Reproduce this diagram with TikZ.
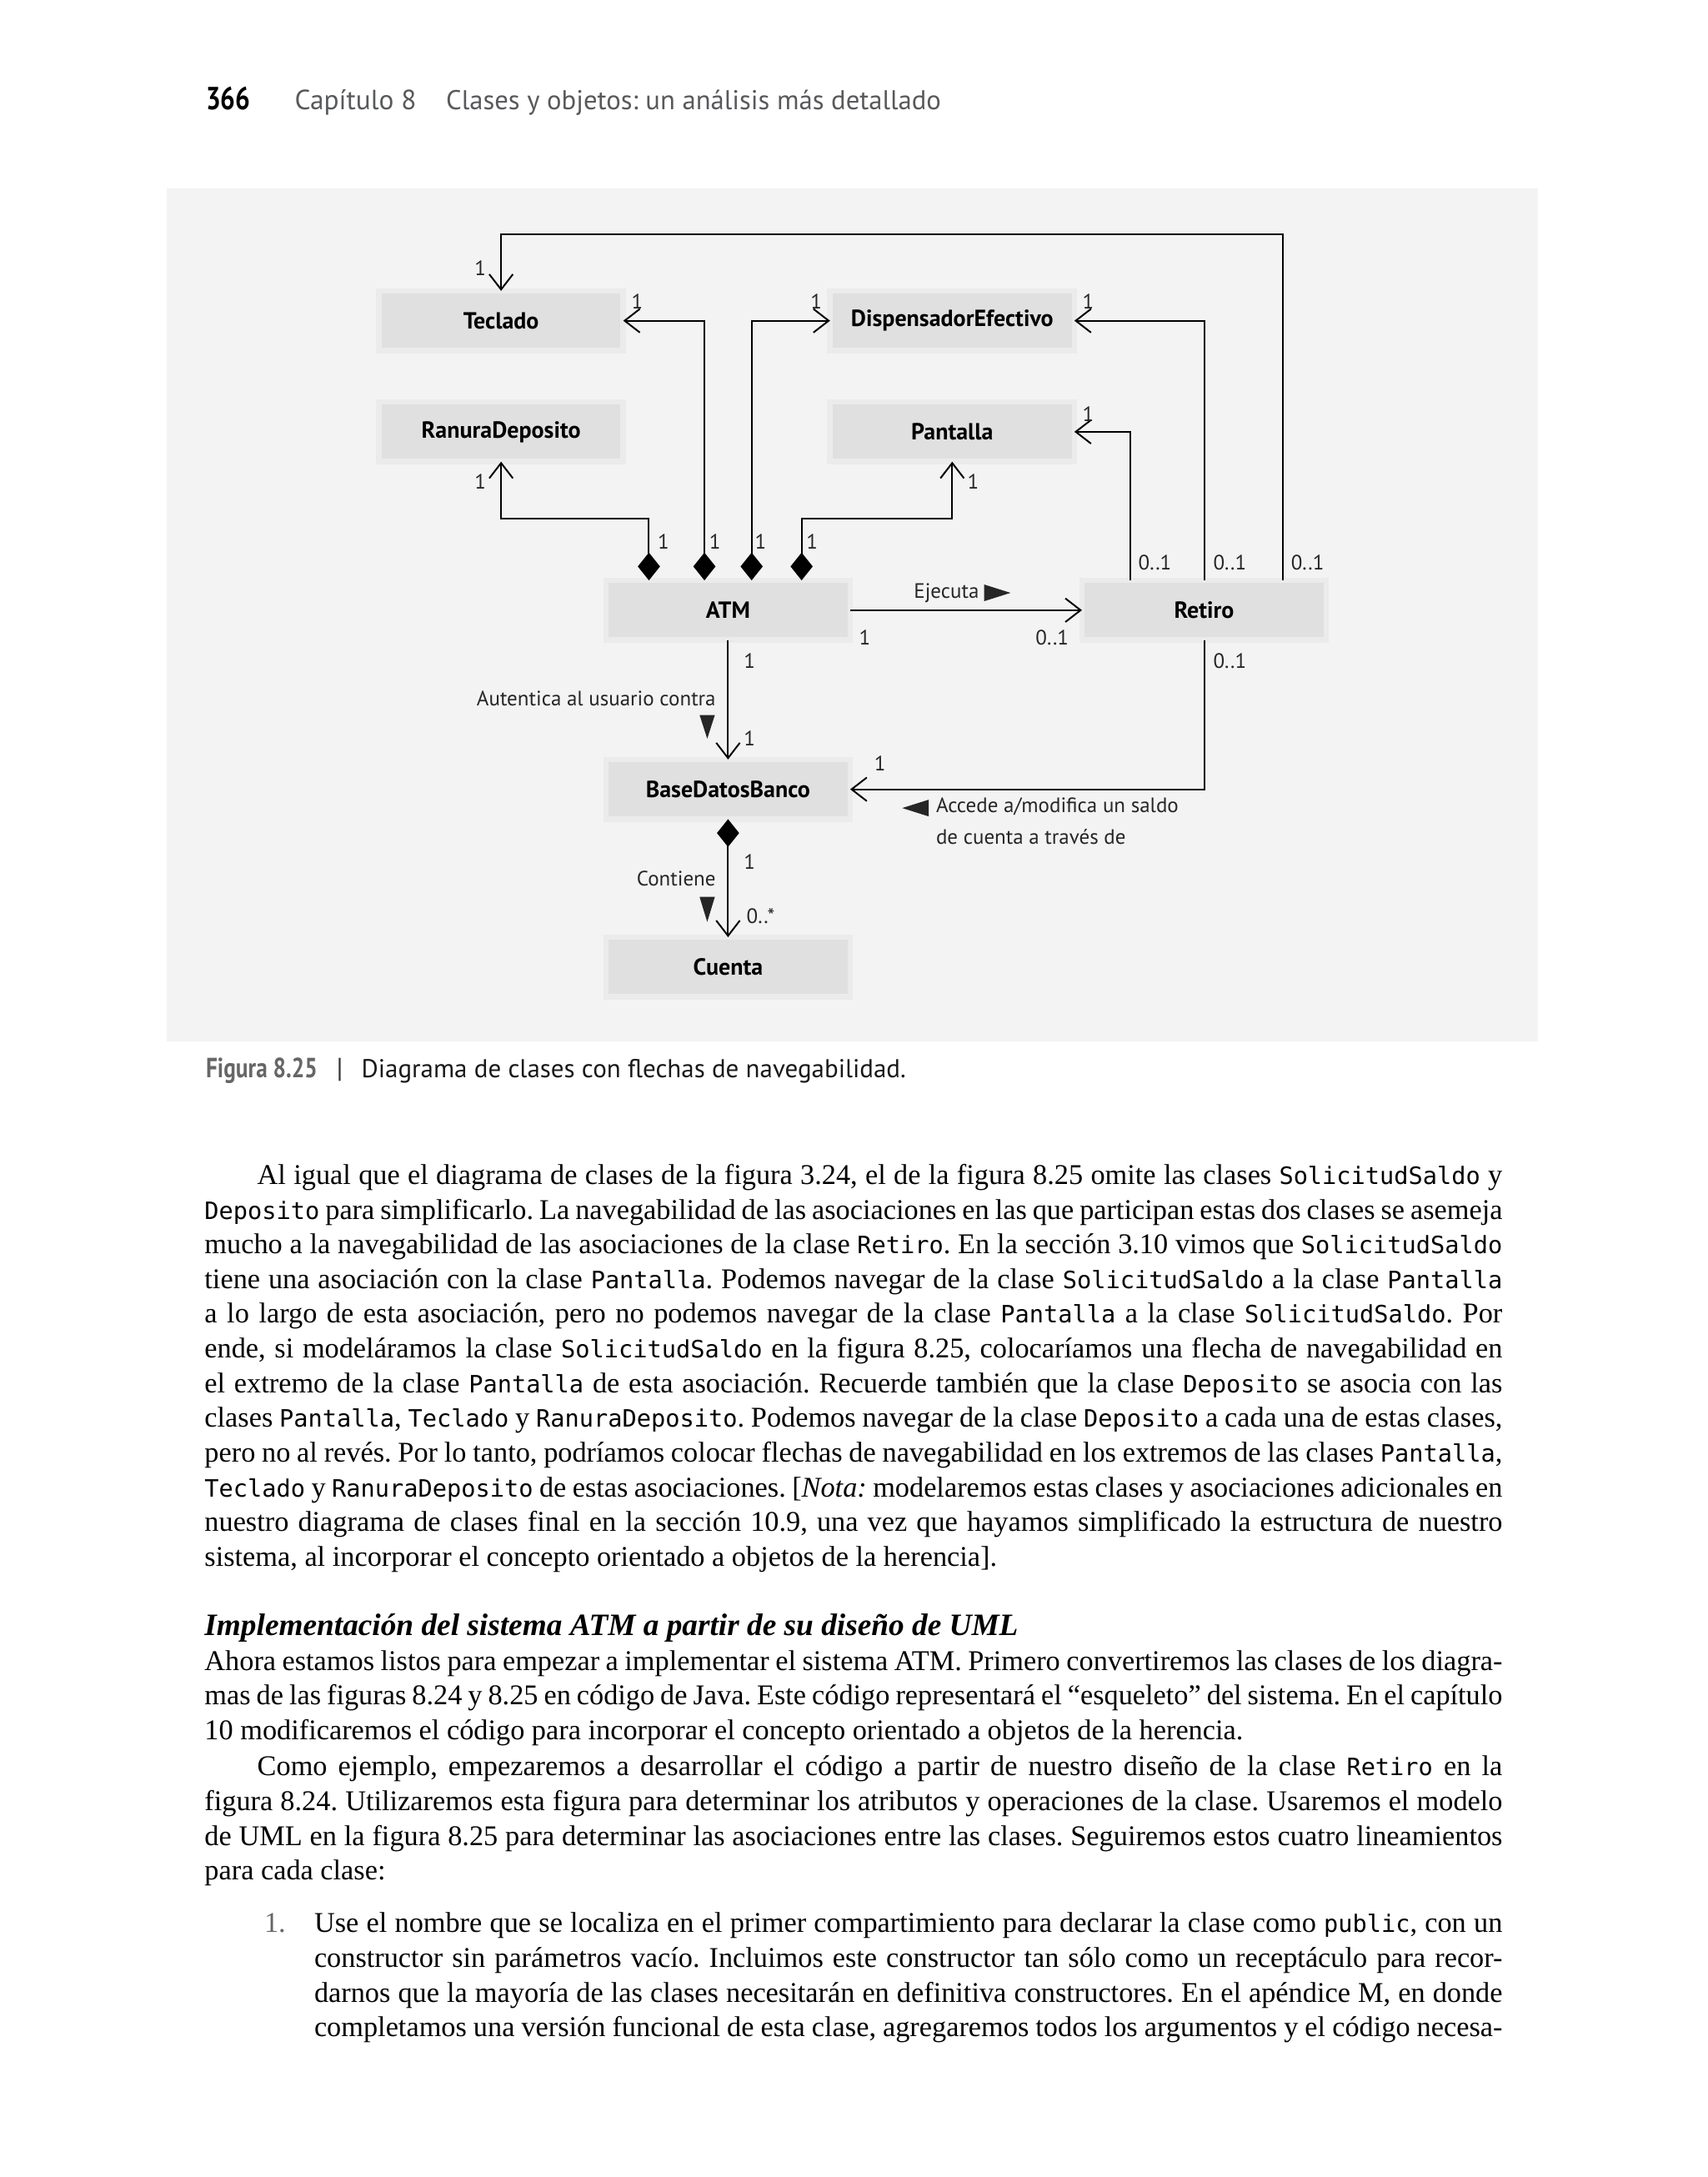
\documentclass[tikz,border=0pt]{standalone}
\usepackage{fontspec}
\setmainfont{Liberation Serif}
\setmonofont{DejaVu Sans Mono}
\newfontfamily\uifont{PT Sans}
\newfontfamily\uicond[FakeStretch=0.82]{PT Sans}
\usetikzlibrary{arrows.meta}
\usetikzlibrary{calc}
\usetikzlibrary{positioning}
\definecolor{panelgray}{HTML}{F3F3F3}
\definecolor{classface}{HTML}{E0E0E0}
\definecolor{classedge}{HTML}{EBEBEB}
\definecolor{headgray}{HTML}{58595B}
\frenchspacing

\newcommand{\code}[1]{{\ttfamily\fontsize{8.6}{10}\selectfont #1}}

\tikzset{
  classbox/.style={fill=classface, draw=classedge, line width=2pt,
    minimum width=88pt, minimum height=21.5pt, inner sep=0pt, outer sep=0pt,
    font=\uifont\bfseries\fontsize{8.4}{9}\selectfont},
  mult/.style={inner sep=0pt, font=\uifont\fontsize{7.5}{9}\selectfont, text=black!85},
  nav/.style={line width=0.6pt, -{Straight Barb[length=5.5pt,width=8.5pt]}},
  comp/.style={line width=0.6pt, {Diamond[length=10pt,width=8pt]}-{Straight Barb[length=5.5pt,width=8.5pt]}},
  dirmark/.style={fill=black!85},
  bodyline/.style={inner sep=0pt, font=\fontsize{10.3}{12.5}\selectfont},
  headtext/.style={inner sep=0pt, anchor=base west, font=\uifont\fontsize{10}{12}\selectfont}
}

% one justified line of running text: name, baseline, text
\newcommand{\fullline}[3]{\node[bodyline, anchor=base west] (#1) at (147,#2) {\hbox to 467.5pt{#3}};}
\newcommand{\indentline}[3]{\node[bodyline, anchor=base west] (#1) at (185,#2) {\hbox to 448.5pt{#3}};}
\newcommand{\itemline}[3]{\node[bodyline, anchor=base west] (#1) at (226,#2) {\hbox to 428pt{#3}};}
\newcommand{\lastline}[3]{\node[bodyline, anchor=base west] (#1) at (147,#2) {#3};}

\begin{document}
\begin{tikzpicture}[x=0.5pt, y=-0.5pt]
\useasboundingbox (0,0) rectangle (1230,1568);

%---------------------------------------
% Running head
%---------------------------------------
\node[headtext, font=\uicond\bfseries\fontsize{11.5}{12}\selectfont] (pagenum) at (148,79) {366};
\node[headtext, text=headgray] (chapter) at (212,79) {Capítulo 8};
\node[headtext, text=headgray, font=\uifont\fontsize{9.8}{12}\selectfont] (chaptitle) at (321,79) {Clases y objetos: un análisis más detallado};

%---------------------------------------
% Figure panel
%---------------------------------------
\fill[panelgray] (120,136) rectangle (1108,750);

% classes
\node[classbox] (teclado) at (361,231) {Teclado};
\node[classbox] (dispensador) at (686,231) {DispensadorEfectivo};
\node[classbox] (ranura) at (361,311) {RanuraDeposito};
\node[classbox] (pantalla) at (686,311) {Pantalla};
\node[classbox] (atm) at (524.5,439.5) {ATM};
\node[classbox] (retiro) at (867.5,439.5) {Retiro};
\node[classbox] (basedatos) at (524.5,568.5) {BaseDatosBanco};
\node[classbox] (cuenta) at (524.5,696.5) {Cuenta};

% ATM compositions
\draw[comp] ($(atm.north west)+(31,0)$) |- ($(ranura.south)+(0,41)$) -- (ranura.south);
\draw[comp] ($(atm.north west)+(71,0)$) |- (teclado.east);
\draw[comp] ($(atm.north west)+(105,0)$) |- (dispensador.west);
\draw[comp] ($(atm.north west)+(141,0)$) |- ($(pantalla.south)+(0,41)$) -- (pantalla.south);

% Retiro associations
\draw[nav] ($(retiro.north)+(-53,0)$) |- (pantalla.east);
\draw[nav] (retiro.north) |- (dispensador.east);
\draw[nav] ($(retiro.north)+(57,0)$) |- ($(teclado.north)+(0,-41)$) -- (teclado.north);
\draw[nav] (atm) -- (retiro);
\draw[nav] (retiro.south) |- (basedatos.east);
\draw[nav] (atm) -- (basedatos);
\draw[comp] (basedatos) -- (cuenta);

% multiplicities
\node[mult] (m1) at (346,193) {1};
\node[mult] (m2) at (459,217) {1};
\node[mult] (m3) at (588,217) {1};
\node[mult] (m4) at (784,217) {1};
\node[mult] (m5) at (784,298) {1};
\node[mult] (m6) at (346,347) {1};
\node[mult] (m7) at (701,347) {1};
\node[mult] (m8) at (478,390) {1};
\node[mult] (m9) at (515,390) {1};
\node[mult] (m10) at (548,390) {1};
\node[mult] (m11) at (585,390) {1};
\node[mult] (m12) at (832,405) {0..1};
\node[mult] (m13) at (886,405) {0..1};
\node[mult] (m14) at (942,405) {0..1};
\node[mult] (m15) at (623,459) {1};
\node[mult] (m16) at (758,459) {0..1};
\node[mult] (m17) at (540,476) {1};
\node[mult] (m18) at (886,476) {0..1};
\node[mult] (m19) at (540,532) {1};
\node[mult] (m20) at (634,550) {1};
\node[mult] (m21) at (540,621) {1};
\node[mult] (m22) at (548,660) {0..*};

% association names
\node[mult, anchor=west] (ejecuta) at (658,427) {Ejecuta};
\fill[dirmark] (709,421) -- (728,427) -- (709,433) -- cycle;
\node[mult, anchor=east] (autentica) at (516,503) {Autentica al usuario contra};
\fill[dirmark] (504,515) -- (515,515) -- (509.5,532) -- cycle;
\node[mult, anchor=west] (accede) at (674,581) {Accede a/modifica un saldo};
\node[mult, anchor=west] (accede2) at (674,603) {de cuenta a través de};
\fill[dirmark] (669,576) -- (669,588) -- (650,582) -- cycle;
\node[mult, anchor=east] (contiene) at (516,633) {Contiene};
\fill[dirmark] (504,646) -- (515,646) -- (509.5,664) -- cycle;

%---------------------------------------
% Caption
%---------------------------------------
\node[headtext, font=\uicond\bfseries\fontsize{10}{12}\selectfont, text=black!60] (fignum) at (148,776) {Figura 8.25};
\node[headtext, text=black!80] (figbar) at (242,776) {|};
\node[headtext, text=black!90, font=\uifont\fontsize{9.3}{12}\selectfont] (figtext) at (260,776) {Diagrama de clases con flechas de navegabilidad.};

%---------------------------------------
% Running text
%---------------------------------------
\indentline{a1}{853}{Al igual que el diagrama de clases de la figura 3.24, el de la figura 8.25 omite las clases \code{SolicitudSaldo} y}
\fullline{a2}{878}{\code{Deposito} para simplificarlo. La navegabilidad de las asociaciones en las que participan estas dos clases se asemeja}
\fullline{a3}{903}{mucho a la navegabilidad de las asociaciones de la clase \code{Retiro}. En la sección 3.10 vimos que \code{SolicitudSaldo}}
\fullline{a4}{928}{tiene una asociación con la clase \code{Pantalla}. Podemos navegar de la clase \code{SolicitudSaldo} a la clase \code{Pantalla}}
\fullline{a5}{953}{a lo largo de esta asociación, pero no podemos navegar de la clase \code{Pantalla} a la clase \code{SolicitudSaldo}. Por}
\fullline{a6}{978}{ende, si modeláramos la clase \code{SolicitudSaldo} en la figura 8.25, colocaríamos una flecha de navegabilidad en}
\fullline{a7}{1003}{el extremo de la clase \code{Pantalla} de esta asociación. Recuerde también que la clase \code{Deposito} se asocia con las}
\fullline{a8}{1028}{clases \code{Pantalla}, \code{Teclado} y \code{RanuraDeposito}. Podemos navegar de la clase \code{Deposito} a cada una de estas clases,}
\fullline{a9}{1053}{pero no al revés. Por lo tanto, podríamos colocar flechas de navegabilidad en los extremos de las clases \code{Pantalla},}
\fullline{a10}{1078}{\code{Teclado} y \code{RanuraDeposito} de estas asociaciones. [\textit{Nota:} modelaremos estas clases y asociaciones adicionales en}
\fullline{a11}{1103}{nuestro diagrama de clases final en la sección 10.9, una vez que hayamos simplificado la estructura de nuestro}
\lastline{a12}{1128}{sistema, al incorporar el concepto orientado a objetos de la herencia].}

\node[bodyline, anchor=base west, font=\bfseries\itshape\fontsize{11.2}{13}\selectfont] (heading) at (147,1178) {Implementación del sistema ATM a partir de su diseño de UML};

\fullline{b1}{1203}{Ahora estamos listos para empezar a implementar el sistema ATM. Primero convertiremos las clases de los diagra-}
\fullline{b2}{1228}{mas de las figuras 8.24 y 8.25 en código de Java. Este código representará el “esqueleto” del sistema. En el capítulo}
\lastline{b3}{1253}{10 modificaremos el código para incorporar el concepto orientado a objetos de la herencia.}

\indentline{c1}{1279}{Como ejemplo, empezaremos a desarrollar el código a partir de nuestro diseño de la clase \code{Retiro} en la}
\fullline{c2}{1304}{figura 8.24. Utilizaremos esta figura para determinar los atributos y operaciones de la clase. Usaremos el modelo}
\fullline{c3}{1329}{de UML en la figura 8.25 para determinar las asociaciones entre las clases. Seguiremos estos cuatro lineamientos}
\lastline{c4}{1354}{para cada clase:}

\node[bodyline, anchor=base west, text=black!60] (item1) at (190,1392) {1.};
\itemline{d1}{1392}{Use el nombre que se localiza en el primer compartimiento para declarar la clase como \code{public}, con un}
\itemline{d2}{1417}{constructor sin parámetros vacío. Incluimos este constructor tan sólo como un receptáculo para recor-}
\itemline{d3}{1442}{darnos que la mayoría de las clases necesitarán en definitiva constructores. En el apéndice M, en donde}
\itemline{d4}{1467}{completamos una versión funcional de esta clase, agregaremos todos los argumentos y el código necesa-}

\end{tikzpicture}
\end{document}
